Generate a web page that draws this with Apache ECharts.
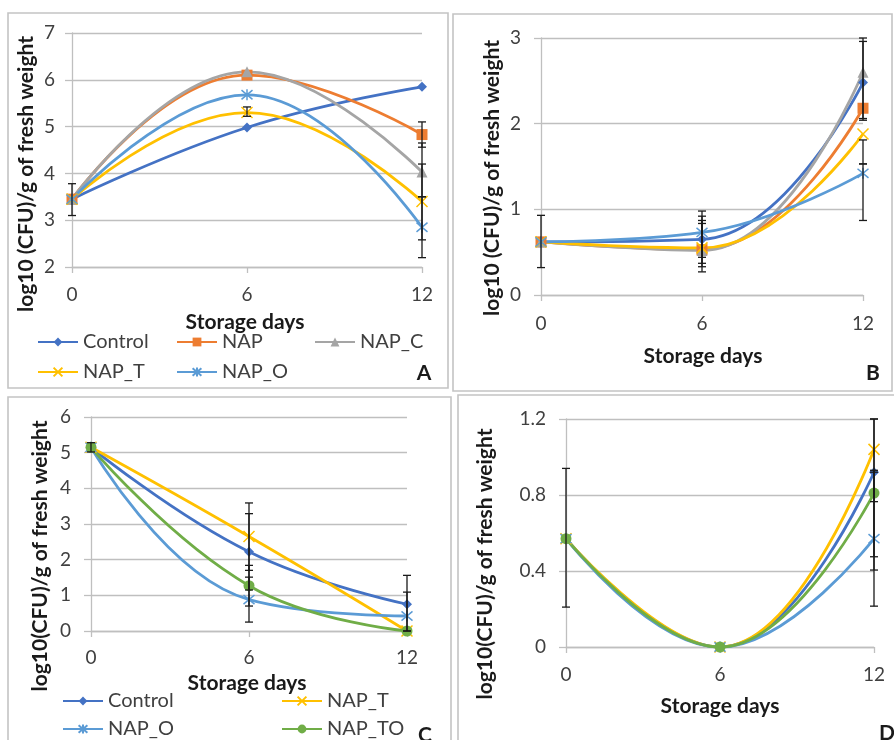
<!DOCTYPE html>
<html>
<head>
<meta charset="utf-8">
<script src="https://cdn.jsdelivr.net/npm/echarts@6/dist/echarts.min.js"></script>
<style>
  html, body { margin: 0; padding: 0; background: #fff; }
  #chart { width: 894px; height: 740px; }
</style>
</head>
<body>
<div id="chart"></div>
<script>
// storage days
const days = [0, 6, 12];

// panel A
const aControl = [3.45, 4.98, 5.85];
const aNAP = [3.45, 6.1, 4.83];
const aNAPC = [3.45, 6.17, 4.03];
const aNAPT = [3.45, 5.3, 3.4];
const aNAPO = [3.45, 5.68, 2.85];
const aErr = [[0, 3.1, 3.78], [6, 5.22, 5.42], [12, 4.56, 5.1], [12, 3.5, 4.65], [12, 2.58, 4.2], [12, 2.2, 3.5]];

// panel B
const bControl = [0.62, 0.65, 2.48];
const bNAP = [0.62, 0.53, 2.18];
const bNAPC = [0.62, 0.52, 2.6];
const bNAPT = [0.62, 0.55, 1.88];
const bNAPO = [0.62, 0.73, 1.42];
const bErr = [[0, 0.32, 0.93], [6, 0.27, 0.98], [6, 0.33, 0.92], [6, 0.37, 0.87], [6, 0.44, 0.835],
  [12, 2.04, 3.0], [12, 2.06, 2.96], [12, 1.53, 1.81], [12, 0.87, 1.53]];

// panel C
const cControl = [5.15, 2.22, 0.75];
const cNAPT = [5.15, 2.65, 0.0];
const cNAPO = [5.15, 0.88, 0.42];
const cNAPTO = [5.15, 1.27, 0.0];
const cErr = [[0, 5.02, 5.28], [6, 1.7, 3.59], [6, 1.15, 3.29], [6, 0.7, 1.84], [6, 0.25, 1.51], [12, 0, 1.56], [12, 0, 1.09]];

// panel D
const dControl = [0.57, 0, 0.92];
const dNAPT = [0.57, 0, 1.04];
const dNAPO = [0.57, 0, 0.57];
const dNAPTO = [0.57, 0, 0.81];
const dErr = [[0, 0.21, 0.94], [12, 0.765, 1.2], [12, 0.475, 1.2], [12, 0.405, 0.92], [12, 0.215, 0.93]];

const COLORS = {
    Control: '#4472C4',
    NAP: '#ED7D31',
    NAP_C: '#A5A5A5',
    NAP_T: '#FFC000',
    NAP_O: '#5B9BD5',
    NAP_TO: '#70AD47'
};
const SYMBOLS = {
    Control: ['diamond', 10],
    NAP: ['rect', 11],
    NAP_C: ['triangle', 11],
    NAP_T: ['path://M0,0L10,10M10,0L0,10', 11],
    NAP_O: ['path://M0,0L10,10M10,0L0,10M5,-1L5,11', 11],
    NAP_TO: ['circle', 11]
};
const FONT = 'Lato, "Open Sans", sans-serif';

const pair = (vals) => days.map((d, i) => [d, vals[i]]);

function lineSeries(name, vals, idx) {
    const c = COLORS[name];
    return {
        name: name,
        type: 'line',
        xAxisIndex: idx,
        yAxisIndex: idx,
        data: pair(vals),
        smooth: 0.45,
        symbol: SYMBOLS[name][0],
        symbolSize: SYMBOLS[name][1],
        lineStyle: {color: c, width: 2.8},
        itemStyle: {color: c, borderColor: c, borderWidth: SYMBOLS[name][0].indexOf('path') === 0 ? 1.5 : 0},
        z: 3,
        animation: false
    };
}

function errSeries(data, idx) {
    return {
        type: 'custom',
        xAxisIndex: idx,
        yAxisIndex: idx,
        data: data,
        z: 4,
        silent: true,
        renderItem: function (params, api) {
            const lo = api.coord([api.value(0), api.value(1)]);
            const hi = api.coord([api.value(0), api.value(2)]);
            const st = {stroke: '#1a1a1a', lineWidth: 1.3};
            const w = 4;
            return {
                type: 'group',
                children: [
                    {type: 'line', shape: {x1: lo[0], y1: lo[1], x2: hi[0], y2: hi[1]}, style: st},
                    {type: 'line', shape: {x1: lo[0] - w, y1: lo[1], x2: lo[0] + w, y2: lo[1]}, style: st},
                    {type: 'line', shape: {x1: hi[0] - w, y1: hi[1], x2: hi[0] + w, y2: hi[1]}, style: st}
                ]
            };
        },
        animation: false
    };
}

function xAxis(idx, margin) {
    return {
        type: 'value', gridIndex: idx, min: 0, max: 12, interval: 6,
        axisLine: {show: true, lineStyle: {color: '#bfbfbf', width: 1.3}},
        axisTick: {show: true, length: 6, lineStyle: {color: '#bfbfbf', width: 1.3}},
        splitLine: {show: false},
        axisLabel: {fontSize: 19, color: '#404040', fontFamily: FONT, margin: margin}
    };
}

function yAxis(idx, min, max, interval, margin) {
    return {
        type: 'value', gridIndex: idx, min: min, max: max, interval: interval,
        axisLine: {show: true, lineStyle: {color: '#bfbfbf', width: 1.3}},
        axisTick: {show: true, length: 7, lineStyle: {color: '#bfbfbf', width: 1.3}},
        splitLine: {show: true, lineStyle: {color: '#bfbfbf', width: 1.3}},
        axisLabel: {fontSize: 19, color: '#404040', fontFamily: FONT, margin: margin}
    };
}

function legendItem(name, left, top) {
    return {
        data: [name], left: left, top: top, padding: 0, itemGap: 0,
        itemWidth: 40, itemHeight: 11, selectedMode: false,
        textStyle: {fontSize: 20, color: '#404040', fontFamily: FONT}
    };
}

function txt(text, x, y, size, rotate) {
    return {
        type: 'text', x: x, y: y, rotation: rotate ? Math.PI / 2 : 0, silent: true,
        style: {text: text, align: 'center', verticalAlign: 'middle', font: 'bold ' + size + 'px ' + FONT, fill: '#1a1a1a'}
    };
}

function box(x, y, w, h) {
    return {
        type: 'rect', silent: true, z: -1,
        shape: {x: x, y: y, width: w, height: h},
        style: {fill: 'none', stroke: '#c4c4c4', lineWidth: 1.6}
    };
}

const chart = echarts.init(document.getElementById('chart'), null, {renderer: 'canvas'});
chart.setOption({
    backgroundColor: '#fff',
    animation: false,
    grid: [
        {left: 72, top: 33, width: 350, height: 234},
        {left: 541, top: 38, width: 322, height: 257},
        {left: 91, top: 417, width: 316, height: 214},
        {left: 566, top: 419, width: 308, height: 228}
    ],
    xAxis: [xAxis(0, 18), xAxis(1, 19), xAxis(2, 17), xAxis(3, 18)],
    yAxis: [yAxis(0, 2, 7, 1, 17), yAxis(1, 0, 3, 1, 20), yAxis(2, 0, 6, 1, 20), yAxis(3, 0, 1.2, 0.4, 20)],
    legend: [
        legendItem('Control', 37, 332),
        legendItem('NAP', 176, 332),
        legendItem('NAP_C', 314, 332),
        legendItem('NAP_T', 37, 362),
        legendItem('NAP_O', 176, 362),
        legendItem('Control', 62, 691),
        legendItem('NAP_T', 281, 691),
        legendItem('NAP_O', 62, 719),
        legendItem('NAP_TO', 281, 719)
    ],
    graphic: [
        box(8, 13, 440, 375),
        box(453, 14, 439, 377),
        box(8, 397, 443, 350),
        box(458, 395, 440, 350),
        txt('log10 (CFU)/g of fresh weight', 26, 174, 21, true),
        txt('log10 (CFU)/g of fresh weight', 492, 178, 21, true),
        txt('log10(CFU)/g of fresh weight', 40, 556, 21, true),
        txt('log10(CFU)/g of fresh weight', 485, 564, 21, true),
        txt('Storage days', 245, 322, 21),
        txt('Storage days', 703, 356, 21),
        txt('Storage days', 247, 683, 21),
        txt('Storage days', 720, 706, 21),
        txt('A', 424, 373, 21),
        txt('B', 873, 373, 21),
        txt('C', 425, 735, 21),
        txt('D', 887, 733, 21)
    ],
    series: [
        lineSeries('Control', aControl, 0),
        lineSeries('NAP', aNAP, 0),
        lineSeries('NAP_C', aNAPC, 0),
        lineSeries('NAP_T', aNAPT, 0),
        lineSeries('NAP_O', aNAPO, 0),
        errSeries(aErr, 0),

        lineSeries('Control', bControl, 1),
        lineSeries('NAP', bNAP, 1),
        lineSeries('NAP_C', bNAPC, 1),
        lineSeries('NAP_T', bNAPT, 1),
        lineSeries('NAP_O', bNAPO, 1),
        errSeries(bErr, 1),

        lineSeries('Control', cControl, 2),
        lineSeries('NAP_T', cNAPT, 2),
        lineSeries('NAP_O', cNAPO, 2),
        lineSeries('NAP_TO', cNAPTO, 2),
        errSeries(cErr, 2),

        lineSeries('Control', dControl, 3),
        lineSeries('NAP_T', dNAPT, 3),
        lineSeries('NAP_O', dNAPO, 3),
        lineSeries('NAP_TO', dNAPTO, 3),
        errSeries(dErr, 3)
    ]
});
</script>
</body>
</html>
